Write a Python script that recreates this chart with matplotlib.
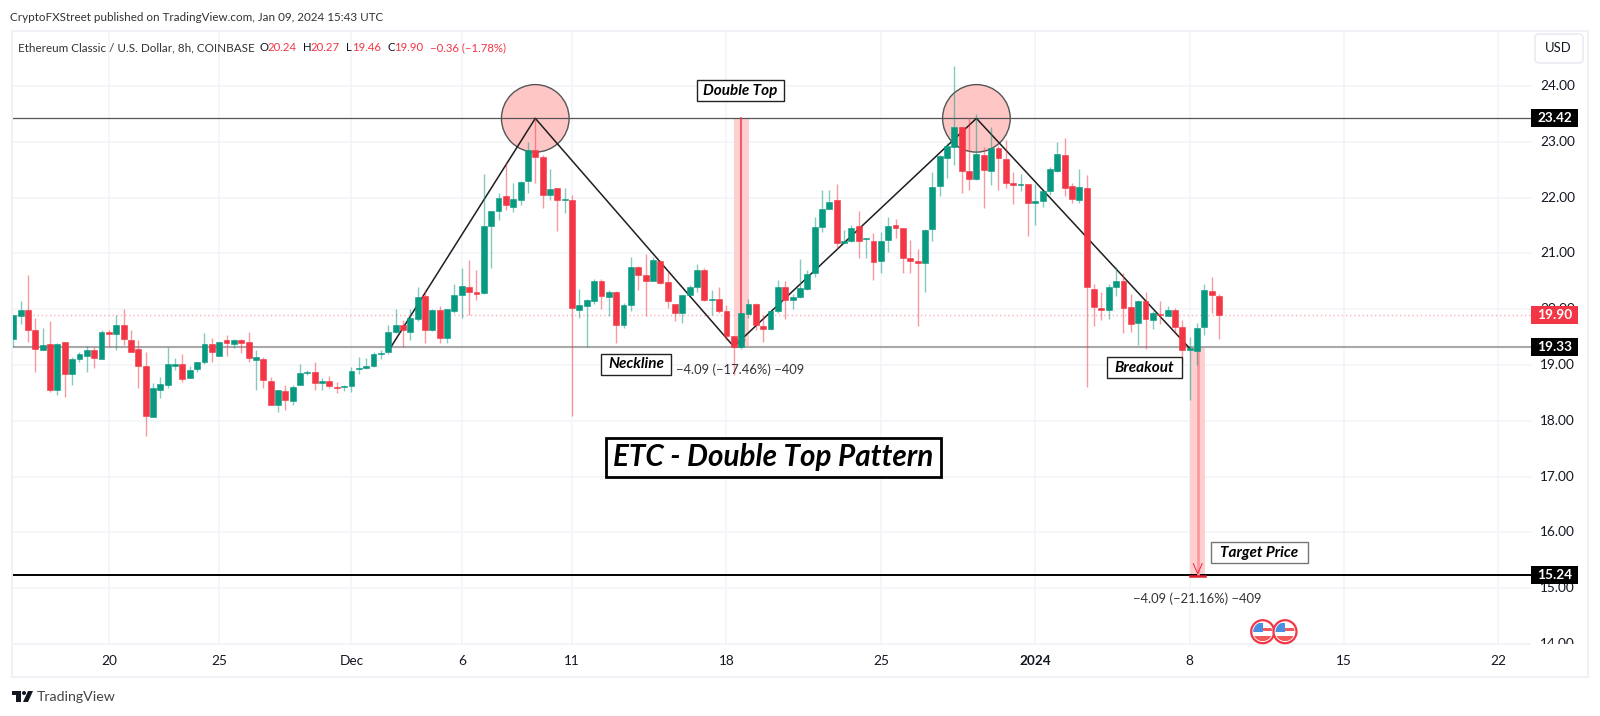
import matplotlib
matplotlib.use("Agg")
import numpy as np
import matplotlib.pyplot as plt
from matplotlib.patches import Rectangle, Circle, Ellipse, FancyBboxPatch, Polygon
from matplotlib.transforms import Affine2D

# 8h candles, Nov 15 2023 onwards
opens = [19.46, 19.88, 19.98, 19.63, 19.26, 19.37, 18.55, 19.41, 18.84, 19.10,
         19.17, 19.26, 19.10, 19.59, 19.56, 19.72, 19.45, 19.29, 18.99, 18.07,
         18.56, 18.64, 18.99, 19.02, 18.77, 18.92, 19.05, 19.37, 19.17, 19.44,
         19.37, 19.45, 19.41, 19.09, 19.10, 18.72, 18.29, 18.53, 18.35, 18.65,
         18.86, 18.88, 18.68, 18.72, 18.61, 18.61, 18.63, 18.92, 18.95, 18.98,
         19.20, 19.23, 19.60, 19.72, 19.60, 19.83, 20.23, 19.62, 19.98, 19.48,
         19.97, 20.26, 20.39, 20.30, 20.29, 21.49, 21.76, 22.02, 21.83, 21.96,
         22.30, 22.86, 22.72, 22.05, 22.17, 21.95, 21.96, 19.99, 20.06, 20.15,
         20.50, 20.22, 20.31, 19.72, 20.07, 20.75, 20.61, 20.51, 20.87, 20.48,
         20.10, 19.94, 20.25, 20.40, 20.70, 20.17, 20.18, 19.96, 19.52, 19.33,
         19.91, 20.09, 19.70, 19.64, 19.97, 20.40, 20.17, 20.21, 20.37, 20.64,
         21.47, 21.80, 21.95, 21.18, 21.22, 21.49, 21.25, 21.23, 20.87, 21.24,
         21.50, 21.46, 20.91, 20.86, 20.83, 21.43, 22.21, 22.71, 22.90, 23.26,
         22.48, 22.33, 22.77, 22.48, 22.88, 22.69, 22.26, 22.23, 22.24, 21.91,
         21.94, 22.12, 22.47, 22.77, 22.20, 21.96, 22.17, 20.37, 20.02, 19.99,
         20.39, 20.50, 20.04, 19.76, 20.15, 19.81, 19.91, 19.88, 19.99, 19.68,
         19.26, 19.25, 19.68, 20.32, 20.23]
highs = [19.90, 20.15, 20.61, 19.85, 19.66, 19.79, 19.39, 19.41, 19.14, 19.24,
         19.34, 19.32, 19.62, 19.62, 19.90, 20.00, 19.62, 19.44, 19.23, 18.67,
         18.79, 19.33, 19.13, 19.19, 18.98, 19.05, 19.57, 19.48, 19.42, 19.54,
         19.47, 19.47, 19.60, 19.27, 19.14, 18.79, 18.55, 18.65, 18.64, 19.01,
         18.91, 19.06, 18.77, 18.80, 18.69, 18.65, 18.96, 19.14, 19.13, 19.24,
         19.27, 19.72, 20.00, 19.81, 20.00, 20.39, 20.34, 20.00, 20.05, 20.00,
         20.45, 20.74, 20.88, 20.70, 22.42, 21.76, 22.09, 22.64, 22.26, 22.29,
         23.00, 23.42, 22.76, 22.51, 22.18, 22.18, 22.04, 20.37, 20.18, 20.55,
         20.54, 20.34, 20.33, 20.12, 20.93, 20.77, 20.99, 20.93, 20.88, 20.67,
         20.10, 20.25, 20.43, 20.81, 20.73, 20.34, 20.40, 20.07, 19.52, 19.94,
         20.19, 20.12, 19.90, 19.97, 20.53, 20.50, 20.28, 20.90, 20.70, 21.66,
         22.14, 22.14, 22.24, 21.42, 21.51, 21.76, 21.28, 21.36, 21.38, 21.65,
         21.62, 21.46, 21.24, 21.07, 21.43, 22.45, 22.76, 22.98, 24.36, 23.27,
         23.42, 23.49, 22.90, 23.27, 22.93, 23.03, 22.45, 22.43, 22.24, 22.24,
         22.12, 22.54, 23.00, 23.06, 22.26, 22.51, 22.41, 20.46, 20.30, 20.46,
         20.76, 20.64, 20.27, 20.17, 20.30, 19.96, 20.14, 20.06, 20.03, 19.81,
         19.50, 19.75, 20.46, 20.57, 20.27]
lows = [19.32, 19.73, 19.42, 18.88, 19.26, 18.51, 18.46, 18.43, 18.65, 19.06,
        18.88, 18.95, 19.10, 19.33, 19.26, 19.35, 19.23, 18.58, 17.72, 18.06,
        18.41, 18.58, 18.91, 18.70, 18.76, 18.88, 19.01, 19.06, 19.16, 19.16,
        19.30, 19.22, 19.05, 18.56, 18.58, 18.29, 18.16, 18.19, 18.29, 18.65,
        18.82, 18.56, 18.56, 18.59, 18.50, 18.54, 18.51, 18.83, 18.92, 18.97,
        19.10, 19.20, 19.58, 19.33, 19.44, 19.78, 19.40, 19.61, 19.39, 19.40,
        19.94, 19.84, 19.90, 20.17, 20.28, 20.73, 21.59, 21.78, 21.74, 21.87,
        22.09, 22.26, 21.82, 21.96, 21.40, 21.73, 18.09, 19.84, 19.33, 20.10,
        20.01, 19.87, 19.39, 19.67, 19.97, 20.34, 19.87, 20.51, 20.46, 20.02,
        19.78, 19.76, 20.25, 20.31, 20.15, 19.90, 19.93, 19.45, 18.82, 19.28,
        19.85, 19.63, 19.42, 19.62, 19.93, 19.82, 20.00, 20.20, 20.34, 20.58,
        21.39, 21.80, 21.07, 21.18, 21.21, 20.92, 20.92, 20.52, 20.65, 21.02,
        21.27, 20.65, 20.65, 19.70, 20.31, 21.23, 22.02, 22.36, 22.58, 22.09,
        22.14, 22.32, 21.82, 22.23, 22.14, 22.18, 21.88, 22.11, 21.31, 21.51,
        21.84, 22.05, 22.45, 22.03, 21.90, 21.90, 18.61, 19.69, 19.81, 19.82,
        20.23, 19.58, 19.60, 19.35, 19.29, 19.65, 19.73, 19.87, 19.60, 19.04,
        18.38, 19.00, 19.54, 19.94, 19.46]
closes = [19.90, 19.98, 19.62, 19.28, 19.35, 18.56, 19.38, 18.83, 19.10, 19.19,
          19.26, 19.13, 19.60, 19.56, 19.72, 19.46, 19.24, 18.99, 18.09, 18.58,
          18.66, 19.01, 19.00, 18.75, 18.91, 19.05, 19.38, 19.23, 19.42, 19.40,
          19.44, 19.39, 19.13, 19.14, 18.74, 18.29, 18.55, 18.37, 18.61, 18.86,
          18.87, 18.67, 18.72, 18.62, 18.58, 18.62, 18.90, 18.93, 18.98, 19.19,
          19.21, 19.59, 19.72, 19.62, 19.84, 20.22, 19.62, 19.98, 19.48, 20.00,
          20.25, 20.41, 20.30, 20.27, 21.49, 21.76, 21.99, 21.86, 21.97, 22.28,
          22.86, 22.72, 22.04, 22.15, 21.95, 21.96, 20.03, 20.07, 20.16, 20.50,
          20.23, 20.30, 19.72, 20.07, 20.75, 20.62, 20.51, 20.88, 20.47, 20.14,
          19.94, 20.25, 20.40, 20.70, 20.16, 20.18, 19.96, 19.52, 19.33, 19.93,
          20.09, 19.72, 19.64, 19.96, 20.40, 20.16, 20.22, 20.38, 20.63, 21.47,
          21.80, 21.92, 21.19, 21.23, 21.46, 21.23, 21.26, 20.85, 21.23, 21.49,
          21.46, 20.91, 20.87, 20.83, 21.42, 22.19, 22.74, 22.92, 23.27, 22.47,
          22.33, 22.79, 22.50, 22.89, 22.71, 22.26, 22.23, 22.25, 21.91, 21.94,
          22.11, 22.51, 22.78, 22.18, 21.98, 22.19, 20.39, 20.04, 19.99, 20.39,
          20.50, 20.03, 19.73, 20.15, 19.83, 19.94, 19.90, 19.98, 19.68, 19.27,
          19.30, 19.66, 20.34, 20.26, 19.90]

# candle index of each date label
date_idx = [13, 28, 46, 61, 76, 97, 118, 139, 160, 181, 202]
date_labels = ["20", "25", "Dec", "6", "11", "18", "25", "2024", "8", "15", "22"]
price_ticks = [24, 23, 22, 21, 20, 19, 18, 17, 16, 15, 14]

top_level = 23.42
neck_level = 19.33
target_level = 15.24
last_price = 19.90

# the hand drawn zigzag, (candle index, price)
zigzag_x = [51.4, 71, 98, 131, 160]
zigzag_y = [19.33, 23.42, 19.33, 23.42, 19.30]

GREEN = "#089981"
RED = "#f23645"
GRID = "#f3f4f9"
TEXT = "#131722"
FONT = "Lato"

W, H = 1600, 716
fig = plt.figure(figsize=(W / 100, H / 100), dpi=100, facecolor="white")
plt.rcParams["font.family"] = FONT

# pane edges in pixels
PL, PR, PT, PB = 12, 1531, 31, 644
STEP, X0 = 7.352, 13.3
ax = fig.add_axes([PL / W, 1 - PB / H, (PR - PL) / W, (PB - PT) / H])
ax.set_xlim((PL - X0) / STEP, (PR - X0) / STEP)
ax.set_ylim(24 - (PB - 86) / 55.8, 24 - (PT - 86) / 55.8)
for s in ax.spines.values():
    s.set_visible(False)
ax.set_xticks([])
ax.set_yticks([])

# pixel coords, origin top left
px = Affine2D().scale(1, -1).translate(0, H)


def fig_text(x, y, s, **kw):
    kw.setdefault("fontsize", 9.4)
    kw.setdefault("color", TEXT)
    kw.setdefault("va", "center")
    return fig.text(x / W, 1 - y / H, s, **kw)


# grid
for p in price_ticks:
    ax.axhline(p, color=GRID, lw=1.1, zorder=1)
for d in date_idx:
    ax.axvline(d, color=GRID, lw=1.1, zorder=1)

# last price dotted
ax.axhline(last_price, color=RED, lw=1, ls=(0, (1, 2)), alpha=0.4, zorder=2)

# circles on the two tops
ax.add_patch(Ellipse((71, top_level), 9.2, 1.21, fc="#ffc6c6", ec="#555555", lw=1, zorder=2))
ax.add_patch(Ellipse((131, top_level), 9.2, 1.21, fc="#ffc6c6", ec="#555555", lw=1, zorder=2))

# price range projections
ax.add_patch(Rectangle((98, neck_level), 2.1, top_level - neck_level, fc="#ffcfcf", ec="none", zorder=2))
ax.add_patch(Rectangle((160, target_level), 2.1, neck_level - target_level, fc="#ffcfcf", ec="none", zorder=2))

# level lines
ax.axhline(top_level, color="#555555", lw=0.9, zorder=3)
ax.axhline(neck_level, color="#a8a8a8", lw=1.5, zorder=3)
ax.axhline(target_level, color="black", lw=1.4, zorder=3)

ax.plot([99, 99], [neck_level, top_level], color=RED, lw=1.1, zorder=3)
ax.plot([161.1, 161.1], [target_level, neck_level], color="#fb9a9f", lw=2, zorder=3)
ax.plot([160, 162.1], [target_level - 0.03] * 2, color="#e01e2b", lw=1.8, zorder=4)
ax.plot([160.5, 161.1, 161.7], [target_level + 0.2, target_level + 0.02, target_level + 0.2],
        color=RED, lw=0.8, zorder=4)
ax.plot([98.5, 99, 99.5], [neck_level + 0.12, neck_level + 0.0, neck_level + 0.12],
        color=RED, lw=0.8, zorder=6)

ax.plot(zigzag_x, zigzag_y, color="#1e1e1e", lw=1.1, zorder=4)

# candles
for i in range(len(opens)):
    o, h, l, c = opens[i], highs[i], lows[i], closes[i]
    col = GREEN if c >= o else RED
    ax.plot([i, i], [l, h], color=col, lw=1, alpha=0.5, zorder=5, solid_capstyle="butt")
    ax.add_patch(Rectangle((i - 0.4, min(o, c)), 0.8, max(abs(c - o), 0.02),
                           fc=col, ec=col, lw=0.4, zorder=6))

# price scale, labels get cut by the pane bottom
ax2 = fig.add_axes([PR / W, 1 - PB / H, (1586 - PR) / W, (PB - PT) / H])
ax2.set_xlim(0, 55)
ax2.set_ylim(ax.get_ylim())
ax2.axis("off")
for p in price_ticks:
    ax2.text(9, p, f"{p:.2f}", fontsize=9.8, color=TEXT, va="center", ha="left", clip_on=True)


def price_tag(level, text, color):
    y = 86 + (24 - level) * 55.8
    fig.add_artist(Rectangle((1531, y - 9), 47, 18, fc=color, ec="none", transform=px, zorder=5))
    fig_text(1555, y, text, color="white", ha="center", fontsize=9.8, fontweight="bold", zorder=6)


price_tag(top_level, "23.42", "black")
price_tag(last_price, "19.90", RED)
price_tag(neck_level, "19.33", "black")
price_tag(target_level, "15.24", "black")

# date labels
for d, lab in zip(date_idx, date_labels):
    x = X0 + d * STEP
    weight = "bold" if lab == "2024" else "normal"
    fig_text(x, 661, lab, ha="center", fontsize=9.8, fontweight=weight, zorder=6)

# frame around the chart
fig.add_artist(Rectangle((11.5, 30.5), 1576.5, 646, fc="none", ec="#f0f1f7", lw=1.4, transform=px))
fig.add_artist(Rectangle((11.5, 643.5), 1519.5, 1, fc="#f0f1f7", ec="none", transform=px))

# header
fig_text(10, 17.5, "CryptoFXStreet published on TradingView.com, Jan 09, 2024 15:43 UTC", fontsize=8.35, color="#333333")
fig_text(18, 47.5, "Ethereum Classic / U.S. Dollar, 8h, COINBASE", fontsize=8.4, color="#333333")
for x, s, col in [(259, "O", TEXT), (267, "20.24", RED), (303, "H", TEXT), (310, "20.27", RED),
                  (346, "L", TEXT), (352, "19.46", RED), (387, "C", TEXT), (394, "19.90", RED),
                  (430, "\u22120.36 (\u22121.78%)", RED)]:
    fig_text(x, 47.5, s, color=col, fontsize=8.2)

# USD button
fig.add_artist(FancyBboxPatch((1538, 37), 42, 23, boxstyle="round,pad=3,rounding_size=4",
                              fc="white", ec="#e6e8ef", lw=1, transform=px, zorder=5))
fig_text(1558, 48.5, "USD", ha="center", zorder=6)


def boxed(x0, y0, x1, y1, s, size=11, lw=1.0, ec="#222222"):
    fig.add_artist(Rectangle((x0, y0), x1 - x0, y1 - y0, fc="white", ec=ec, lw=lw, transform=px, zorder=7))
    fig_text((x0 + x1) / 2, (y0 + y1) / 2, s, ha="center", fontsize=size, style="italic",
             fontweight="bold", color="black", zorder=8)


boxed(697, 80, 784, 101, "Double Top")
boxed(601, 354, 671, 375, "Neckline")
boxed(1107, 357, 1182, 378, "Breakout")
boxed(1211, 542, 1308, 563, "Target Price", ec="#777777")
boxed(606, 437.5, 941, 477, "ETC - Double Top Pattern", size=21.3, lw=2, ec="black")

fig_text(740.5, 370, "\u22124.09 (\u221217.46%) \u2212409", ha="center", zorder=8, color="#333333")
fig_text(1197, 599, "\u22124.09 (\u221221.16%) \u2212409", ha="center", zorder=8, color="#333333")


# economic event flags
def flag(cx, cy):
    ring = Circle((cx, cy), 11.5, fc="white", ec="#f23645", lw=1.6, transform=px, zorder=6)
    fig.add_artist(ring)
    clip = Circle((cx, cy), 9.5, transform=px)
    parts = [Rectangle((cx - 10, cy - 9), 10, 9, fc="#4a90e2", ec="none"),
             Rectangle((cx, cy - 4), 10, 3.5, fc="#f25a5a", ec="none"),
             Rectangle((cx - 10, cy + 4), 20, 5, fc="#f25a5a", ec="none")]
    for part in parts:
        part.set_transform(px)
        part.set_zorder(7)
        fig.add_artist(part)
        part.set_clip_path(clip)


flag(1262.7, 631.7)
flag(1285, 631.7)

# TradingView logo
fig.add_artist(Polygon([(12, 691), (21, 691), (21, 702), (16, 702), (16, 695), (12, 695)],
                       fc="#131722", ec="none", transform=px))
fig.add_artist(Circle((24, 693), 2, fc="#131722", ec="none", transform=px))
fig.add_artist(Polygon([(28, 691), (33, 691), (28, 702), (23, 702)], fc="#131722", ec="none", transform=px))
fig_text(37, 697, "TradingView", fontsize=10.2, color="#444444")

fig.savefig("out.png", dpi=100)
